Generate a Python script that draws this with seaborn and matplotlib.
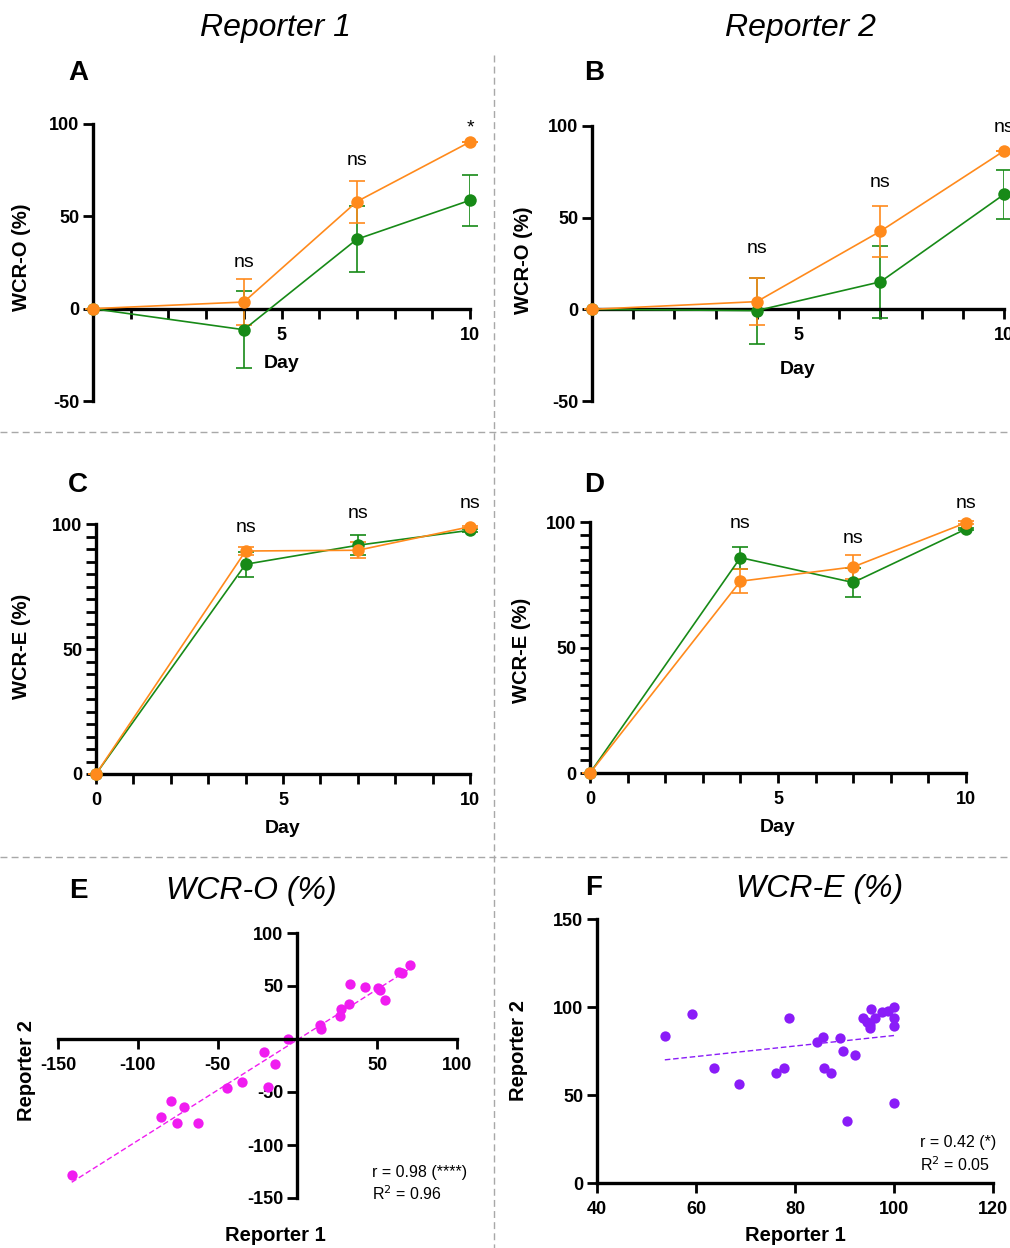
import numpy as np
import pandas as pd
import matplotlib.pyplot as plt
import seaborn as sns
from matplotlib.lines import Line2D
from matplotlib.ticker import MultipleLocator

# ---- data ----
days = [0, 4, 7, 10]

# A: Reporter 1, WCR-O
a_green = [0, -11.4, 37.6, 58.7]
a_green_sd = [0, 20.7, 17.8, 13.7]
a_orange = [0, 3.6, 58.0, 90.3]
a_orange_sd = [0, 12.6, 11.4, 0]
a_marks = ['', 'ns', 'ns', '*']
a_mark_y = [0, 25, 80, 98]

# B: Reporter 2, WCR-O
b_green = [0, -0.7, 15.0, 62.7]
b_green_sd = [0, 18.0, 19.5, 13.3]
b_orange = [0, 4.2, 42.6, 86.4]
b_orange_sd = [0, 13.0, 14.0, 0]
b_marks = ['', 'ns', 'ns', 'ns']
b_mark_y = [0, 33, 69, 99]

# C: Reporter 1, WCR-E
c_green = [0, 83.9, 91.5, 97.5]
c_green_sd = [0, 5.0, 4.0, 0.5]
c_orange = [0, 89.2, 89.5, 98.9]
c_orange_sd = [0, 1.7, 3.2, 0.5]
c_marks = ['', 'ns', 'ns', 'ns']
c_mark_y = [0, 98.7, 104.3, 108.3]

# D: Reporter 2, WCR-E
d_green = [0, 85.8, 75.9, 97.2]
d_green_sd = [0, 4.4, 5.8, 0.5]
d_orange = [0, 76.4, 82.1, 99.7]
d_orange_sd = [0, 4.7, 4.8, 0.5]
d_marks = ['', 'ns', 'ns', 'ns']
d_mark_y = [0, 99.6, 93.5, 107.5]

# E: WCR-O correlation
e_rep1 = [70.6, 63.7, 65.4, 32.9, 42.5, 50.7, 51.7, 54.9, 32.3, 27.2, 27.0, 14.0, 14.7,
          -6.1, -21.2, -13.8, -18.4, -35.0, -43.8, -79.2, -71.0, -85.3, -75.6, -62.0, -141.4]
e_rep2 = [69.8, 62.9, 62.6, 52.3, 49.1, 48.2, 46.6, 36.6, 32.9, 28.5, 21.9, 12.8, 9.7,
          0.0, -12.2, -23.8, -45.1, -40.4, -46.0, -58.8, -64.2, -73.9, -79.5, -79.5, -128.0]

# F: WCR-E correlation
f_rep1 = [53.7, 59.2, 63.7, 68.7, 76.1, 77.7, 78.7, 84.4, 85.6, 85.8, 87.2, 89.1, 89.7, 92.1,
          90.5, 93.7, 94.6, 95.4, 95.2, 95.2, 96.1, 97.6, 98.7, 100, 100, 100, 100]
f_rep2 = [83.8, 96.0, 65.6, 56.3, 62.4, 65.4, 93.9, 80.0, 83.1, 65.4, 62.6, 82.5, 74.9, 72.6,
          35.3, 93.7, 91.4, 98.6, 89.5, 87.8, 93.5, 96.9, 97.9, 100.1, 93.5, 89.3, 45.7]

GREEN = '#178A17'
ORANGE = '#FF8A1C'
MAGENTA = '#F01CF0'
PURPLE = '#8A1CF8'
GRID_GREY = '#A8A8A8'

sns.set_theme(style='ticks')
plt.rcParams['font.family'] = ['Liberation Sans', 'DejaVu Sans']
plt.rcParams['axes.unicode_minus'] = False
for key in ('text.color', 'axes.labelcolor', 'xtick.color', 'ytick.color', 'axes.edgecolor'):
    plt.rcParams[key] = 'black'

W, H = 1010, 1248
fig = plt.figure(figsize=(W / 100, H / 100), dpi=100)


def add_axes(left, right, top, bottom):
    return fig.add_axes([left / W, 1 - bottom / H, (right - left) / W, (bottom - top) / H])


def style_axes(ax):
    sns.despine(ax=ax)
    for side in ('left', 'bottom'):
        ax.spines[side].set_linewidth(2.4)
        ax.spines[side].set_color('black')
    ax.tick_params(which='both', direction='out', length=7, width=2, color='black',
                   labelcolor='black', labelsize=13, pad=3)
    ax.tick_params(axis='x', which='both', pad=6)
    for lab in ax.get_xticklabels() + ax.get_yticklabels():
        lab.set_fontweight('bold')


def time_panel(ax, green, green_sd, orange, orange_sd, marks, mark_y, ylabel, centered, xpad):
    df = pd.DataFrame({'day': days * 2,
                       'value': green + orange,
                       'group': ['green'] * len(days) + ['orange'] * len(days)})
    for vals, sd, c in ((green, green_sd, GREEN), (orange, orange_sd, ORANGE)):
        ax.errorbar(days, vals, yerr=sd, fmt='none', ecolor=c, elinewidth=1.2,
                    capsize=5.5, capthick=1.2, zorder=2)
    sns.lineplot(data=df, x='day', y='value', hue='group',
                 palette={'green': GREEN, 'orange': ORANGE}, marker='o', markersize=9,
                 markeredgewidth=0, linewidth=1.2, legend=False, ax=ax, zorder=3)
    for line in ax.lines:
        line.set_clip_on(False)
    for d, m, y in zip(days, marks, mark_y):
        if m:
            ax.text(d, y, m, ha='center', va='center', fontsize=14, clip_on=False)
    ax.set_xlim(0, 10)
    ax.xaxis.set_minor_locator(MultipleLocator(1))
    if centered:
        ax.set_ylim(-50, 100)
        ax.set_yticks([-50, 0, 50, 100])
        ax.set_xticks([5, 10])
        ax.spines['bottom'].set_position(('data', 0))
    else:
        ax.set_ylim(0, 100)
        ax.set_yticks([0, 50, 100])
        ax.yaxis.set_minor_locator(MultipleLocator(5))
        ax.set_xticks([0, 5, 10])
    style_axes(ax)
    ax.set_xlabel('Day', fontsize=14, fontweight='bold', labelpad=xpad)
    ax.set_ylabel(ylabel, fontsize=14.5, fontweight='bold')


axA = add_axes(93, 470, 124, 401)
time_panel(axA, a_green, a_green_sd, a_orange, a_orange_sd, a_marks, a_mark_y, 'WCR-O (%)', True, 8)
axA.yaxis.set_label_coords(-0.165, 0.52)

axB = add_axes(592, 1004, 126, 401)
time_panel(axB, b_green, b_green_sd, b_orange, b_orange_sd, b_marks, b_mark_y, 'WCR-O (%)', True, 12)
axB.yaxis.set_label_coords(-0.143, 0.51)

axC = add_axes(96, 470, 524, 774)
time_panel(axC, c_green, c_green_sd, c_orange, c_orange_sd, c_marks, c_mark_y, 'WCR-E (%)', False, 8)
axC.yaxis.set_label_coords(-0.173, 0.51)

axD = add_axes(590, 966, 522, 773)
time_panel(axD, d_green, d_green_sd, d_orange, d_orange_sd, d_marks, d_mark_y, 'WCR-E (%)', False, 8)
axD.yaxis.set_label_coords(-0.156, 0.49)

# E: scatter with axes crossing at zero
axE = add_axes(58, 457, 933, 1198)
sns.regplot(x=e_rep1, y=e_rep2, ax=axE, ci=None, color=MAGENTA,
            scatter_kws={'s': 55, 'linewidths': 0, 'alpha': 1, 'clip_on': False},
            line_kws={'linestyle': (0, (4, 2)), 'linewidth': 1})
axE.set_xlim(-150, 100)
axE.set_ylim(-150, 100)
axE.set_xticks([-150, -100, -50, 50, 100])
axE.set_yticks([-150, -100, -50, 50, 100])
axE.spines['left'].set_position(('data', 0))
axE.spines['bottom'].set_position(('data', 0))
style_axes(axE)
axE.set_xlabel('Reporter 1', fontsize=14.5, fontweight='bold')
axE.set_ylabel('Reporter 2', fontsize=14.5, fontweight='bold')
axE.xaxis.set_label_coords(0.544, -0.105)
axE.yaxis.set_label_coords(-0.055, 0.48)

# F: scatter
axF = add_axes(597, 993, 919, 1183)
sns.regplot(x=f_rep1, y=f_rep2, ax=axF, ci=None, color=PURPLE,
            scatter_kws={'s': 55, 'linewidths': 0, 'alpha': 1, 'clip_on': False},
            line_kws={'linestyle': (0, (4, 2)), 'linewidth': 1})
axF.set_xlim(40, 120)
axF.set_ylim(0, 150)
axF.set_xticks([40, 60, 80, 100, 120])
axF.set_yticks([0, 50, 100, 150])
style_axes(axF)
axF.set_xlabel('Reporter 1', fontsize=14.5, fontweight='bold', labelpad=6)
axF.set_ylabel('Reporter 2', fontsize=14.5, fontweight='bold')
axF.yaxis.set_label_coords(-0.175, 0.5)

# correlation stats text (figure pixel positions)
fig.text(372 / W, 1 - 1172 / H, 'r = 0.98 (****)', fontsize=11.5, va='center')
fig.text(372 / W, 1 - 1194 / H, 'R$^2$ = 0.96', fontsize=11.5, va='center')
fig.text(920 / W, 1 - 1143 / H, 'r = 0.42 (*)', fontsize=11.5, va='center')
fig.text(920 / W, 1 - 1165 / H, 'R$^2$ = 0.05', fontsize=11.5, va='center')

# column headers, subplot titles and panel letters
fig.text(275 / W, 1 - 28 / H, 'Reporter 1', fontsize=23, style='italic', ha='center', va='center')
fig.text(800 / W, 1 - 28 / H, 'Reporter 2', fontsize=23, style='italic', ha='center', va='center')
fig.text(251 / W, 1 - 891 / H, 'WCR-O (%)', fontsize=23, style='italic', ha='center', va='center')
fig.text(820 / W, 1 - 889 / H, 'WCR-E (%)', fontsize=23, style='italic', ha='center', va='center')
for letter, x, y in (('A', 78, 73), ('B', 594, 73), ('C', 78, 485),
                     ('D', 594, 485), ('E', 78, 891), ('F', 594, 888)):
    fig.text(x / W, 1 - y / H, letter, fontsize=20, fontweight='bold', ha='center', va='center')

# dashed dividers between panels
fig.add_artist(Line2D([494 / W, 494 / W], [1 - 55 / H, 0], transform=fig.transFigure,
                      color=GRID_GREY, linewidth=1, dashes=(5, 3)))
for y in (432, 857):
    fig.add_artist(Line2D([0, 1], [1 - y / H, 1 - y / H], transform=fig.transFigure,
                          color=GRID_GREY, linewidth=1, dashes=(5, 3)))

fig.savefig('out.png', dpi=100)
